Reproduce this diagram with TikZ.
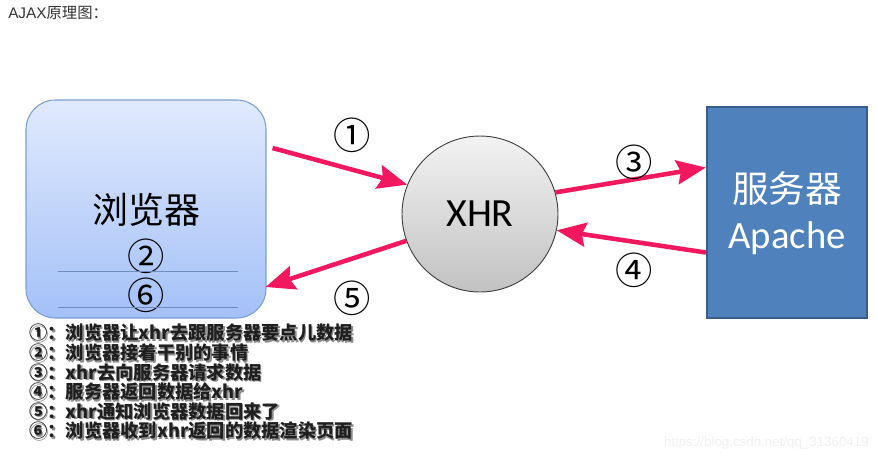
\documentclass[tikz,border=0pt]{standalone}
\usepackage{fontspec}
\setmainfont{Liberation Sans}
\newfontfamily\cjk{Noto Sans CJK SC}
\newfontfamily\calfont{Carlito}
\usetikzlibrary{arrows.meta,calc}
\definecolor{arrowred}{HTML}{F2175E}
\definecolor{boxtop}{HTML}{E0EAFD}
\definecolor{boxbot}{HTML}{A3C0F7}
\definecolor{boxline}{HTML}{7C9ED2}
\definecolor{srvfill}{HTML}{4F81BD}
\definecolor{srvline}{HTML}{385D8A}
\definecolor{titlegray}{HTML}{333333}
\tikzset{
  flow/.style={draw=arrowred, line width=3.4pt, -{Stealth[length=22pt,width=18pt,inset=3pt]}},
  circnum/.style={font=\cjk\fontsize{28}{30}\selectfont, inner sep=0pt},
  divline/.style={draw=boxline!90!black, line width=0.6pt},
}
\begin{document}
\begin{tikzpicture}[x=0.75pt,y=-0.75pt]
\useasboundingbox (0,0) rectangle (878,462);
% title
\node[anchor=west, inner sep=0pt, text=titlegray, font=\fontsize{11.5}{13}\selectfont] (title) at (8,13) {AJAX{\cjk 原理图：}};
% browser
\node[draw=boxline, line width=0.8pt, rounded corners=22pt, top color=boxtop, bottom color=boxbot,
      minimum width=180pt, minimum height=163.5pt] (browser) at (146,209) {};
\node[font=\cjk\fontsize{27}{30}\selectfont, inner sep=0pt] (btext) at (146,210) {浏览器};
\node[circnum] (b2) at (146,256) {②};
\node[circnum] (b6) at (146,295) {⑥};
\draw[divline] (58,271) -- (238,271);
\draw[divline] (58,307) -- (238,307);
% xhr
\node[circle, draw=black!75, line width=0.7pt, top color=black!5, bottom color=black!24,
      minimum size=117pt, inner sep=0pt, font=\calfont\fontsize{30}{32}\selectfont] (xhr) at (480,214) {XHR};
% server
\node[draw=srvline, line width=1.6pt, fill=srvfill, minimum width=120pt, minimum height=158pt,
      text=white, align=center] (server) at (787,212.5) {};
\node[text=white, font=\cjk\fontsize{27.5}{30}\selectfont, inner sep=0pt] (stext1) at (787,189) {服务器};
\node[text=white, font=\calfont\fontsize{29}{31}\selectfont, inner sep=0pt] (stext2) at (787,238) {Apache};
% arrows
\draw[flow] ($(browser.east)+(6,-61)$) -- (xhr.158);
\draw[flow] (xhr.16) -- ($(server.west)+(0,-45)$);
\draw[flow] ($(server.west)+(0,40)$) -- (xhr.-12);
\draw[flow] (xhr.200) -- ($(browser.east)+(-1,78)$);
% labels
\node[circnum] (l1) at (352,135) {①};
\node[circnum] (l3) at (634,162) {③};
\node[circnum] (l4) at (634,270) {④};
\node[circnum] (l5) at (352,298) {⑤};
% legend
\def\legendtext{①：浏览器让xhr去跟服务器要点儿数据\\
②：浏览器接着干别的事情\\
③：xhr去向服务器请求数据\\
④：服务器返回数据给xhr\\
⑤：xhr通知浏览器数据回来了\\
⑥：浏览器收到xhr返回的数据渲染页面}
\node[anchor=north west, align=left, inner sep=0pt, text=black!45,
      font=\cjk\bfseries\fontsize{13.7}{14.7}\selectfont] (legendshadow) at (30.5,325.5) {\legendtext};
\node[anchor=north west, align=left, inner sep=0pt, text=black!88,
      font=\cjk\bfseries\fontsize{13.7}{14.7}\selectfont] (legend) at (29,324) {\legendtext};
% watermark
\node[anchor=east, inner sep=0pt, text=black!6, font=\fontsize{10}{12}\selectfont] (wm) at (869,443) {https://blog.csdn.net/qq\_31360419};
\end{tikzpicture}
\end{document}
